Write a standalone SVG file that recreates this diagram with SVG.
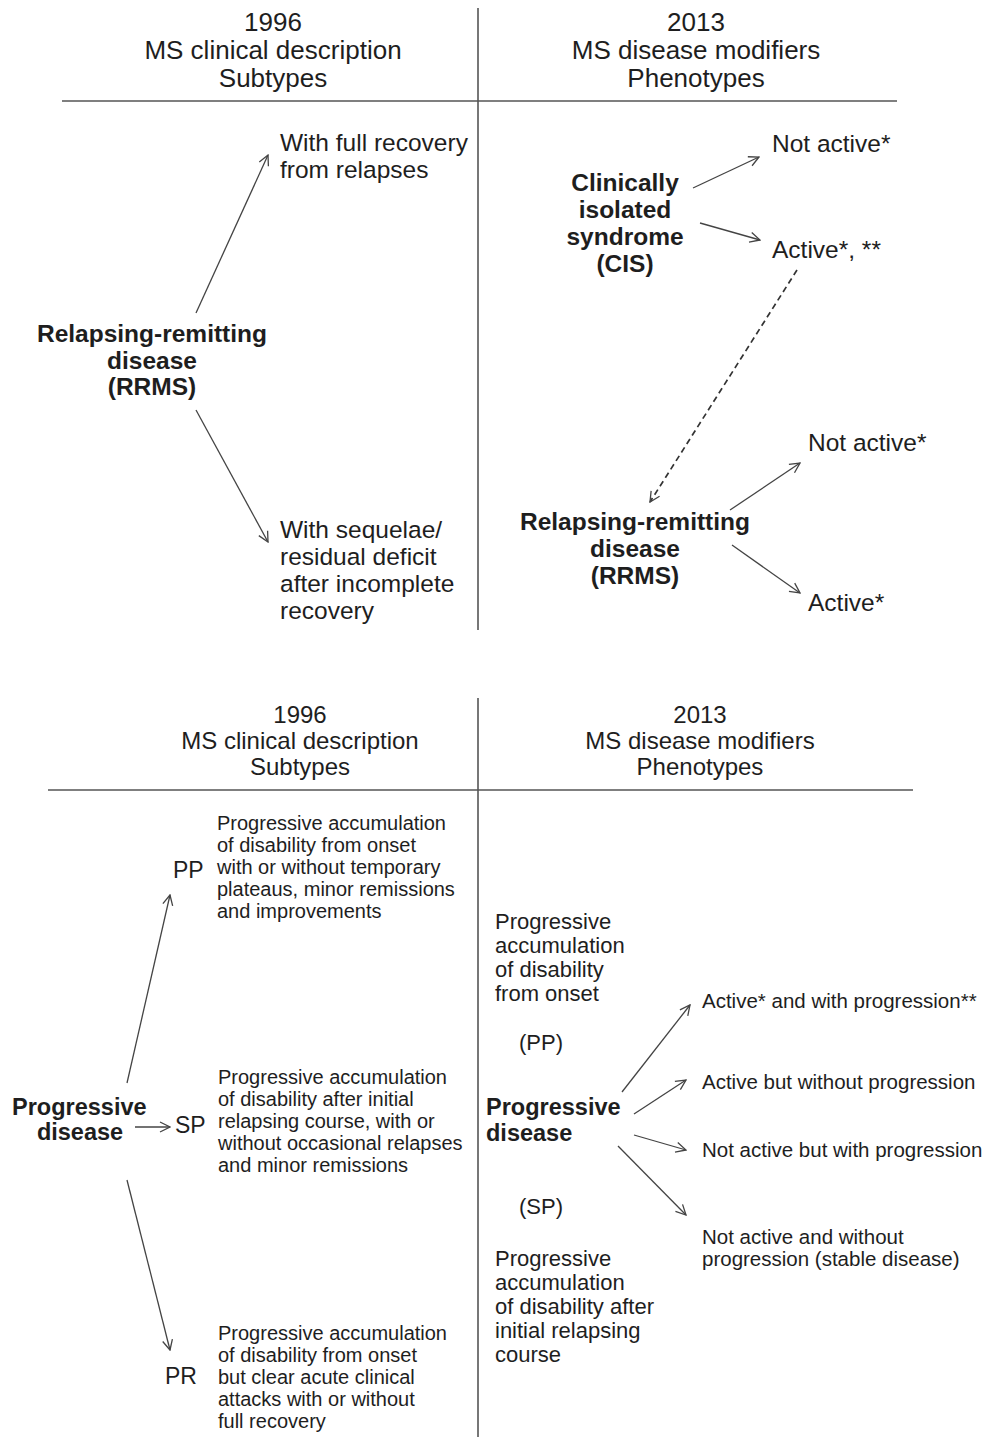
<svg xmlns="http://www.w3.org/2000/svg" width="984" height="1437" viewBox="0 0 984 1437">
<style>
text{font-family:"Liberation Sans",Arial,sans-serif;fill:#1e1e1e}
.h1{font-size:26px;text-anchor:middle}
.h2{font-size:24px;text-anchor:middle}
.t{font-size:24.5px}
.b{font-size:24.5px;font-weight:bold;text-anchor:middle}
.s{font-size:20px}
.ab{font-size:23px}
.bb{font-size:23.5px;font-weight:bold}
.r{font-size:22px}
.o{font-size:20.5px}
.rule{stroke:#555;stroke-width:1.6;fill:none}
.c{stroke:#444;stroke-width:1.3;fill:none;marker-end:url(#arr)}
.d{stroke-dasharray:6,4;stroke-width:1.7;stroke:#333}
</style>
<defs>
<marker id="arr" viewBox="0 0 12 12" refX="11" refY="6" markerWidth="12" markerHeight="12" markerUnits="userSpaceOnUse" orient="auto">
<path d="M1,1 L11,6 L1,11" fill="none" stroke="#444" stroke-width="1.3"/>
</marker>
</defs>
<g id="frame">
<line class="rule" x1="478" y1="8" x2="478" y2="630"/>
<line class="rule" x1="62" y1="101" x2="897" y2="101"/>
<line class="rule" x1="478" y1="698" x2="478" y2="1437"/>
<line class="rule" x1="48" y1="790" x2="913" y2="790"/>
</g>
<g id="hdr-top-left"><text class="h1" x="273" y="31">1996</text><text class="h1" x="273" y="59">MS clinical description</text><text class="h1" x="273" y="87">Subtypes</text></g>
<g id="hdr-top-right"><text class="h1" x="696" y="31">2013</text><text class="h1" x="696" y="59">MS disease modifiers</text><text class="h1" x="696" y="87">Phenotypes</text></g>
<g id="rrms-1996"><text class="b" x="152" y="342">Relapsing-remitting</text><text class="b" x="152" y="369">disease</text><text class="b" x="152" y="395">(RRMS)</text></g>
<g id="full-recovery"><text class="t" x="280" y="151">With full recovery</text><text class="t" x="280" y="178">from relapses</text></g>
<g id="sequelae"><text class="t" x="280" y="538">With sequelae/</text><text class="t" x="280" y="565">residual deficit</text><text class="t" x="280" y="592">after incomplete</text><text class="t" x="280" y="619">recovery</text></g>
<g id="cis"><text class="b" x="625" y="191">Clinically</text><text class="b" x="625" y="218">isolated</text><text class="b" x="625" y="245">syndrome</text><text class="b" x="625" y="272">(CIS)</text></g>
<g id="cis-not-active"><text class="t" x="772" y="152">Not active*</text></g>
<g id="cis-active"><text class="t" x="772" y="258">Active*, **</text></g>
<g id="rrms-2013"><text class="b" x="635" y="530">Relapsing-remitting</text><text class="b" x="635" y="557">disease</text><text class="b" x="635" y="584">(RRMS)</text></g>
<g id="rrms-not-active"><text class="t" x="808" y="451">Not active*</text></g>
<g id="rrms-active"><text class="t" x="808" y="611">Active*</text></g>
<g id="hdr-bottom-left"><text class="h2" x="300" y="723">1996</text><text class="h2" x="300" y="749">MS clinical description</text><text class="h2" x="300" y="775">Subtypes</text></g>
<g id="hdr-bottom-right"><text class="h2" x="700" y="723">2013</text><text class="h2" x="700" y="749">MS disease modifiers</text><text class="h2" x="700" y="775">Phenotypes</text></g>
<g id="prog-1996"><text class="bb" x="12" y="1115">Progressive</text><text class="bb" x="80" y="1140" text-anchor="middle">disease</text></g>
<g id="pp-1996"><text class="ab" x="173" y="878">PP</text><text class="s" x="217" y="830">Progressive accumulation</text><text class="s" x="217" y="852">of disability from onset</text><text class="s" x="217" y="874">with or without temporary</text><text class="s" x="217" y="896">plateaus, minor remissions</text><text class="s" x="217" y="918">and improvements</text></g>
<g id="sp-1996"><text class="ab" x="175" y="1133">SP</text><text class="s" x="218" y="1084">Progressive accumulation</text><text class="s" x="218" y="1106">of disability after initial</text><text class="s" x="218" y="1128">relapsing course, with or</text><text class="s" x="218" y="1150">without occasional relapses</text><text class="s" x="218" y="1172">and minor remissions</text></g>
<g id="pr-1996"><text class="ab" x="165" y="1384">PR</text><text class="s" x="218" y="1340">Progressive accumulation</text><text class="s" x="218" y="1362">of disability from onset</text><text class="s" x="218" y="1384">but clear acute clinical</text><text class="s" x="218" y="1406">attacks with or without</text><text class="s" x="218" y="1428">full recovery</text></g>
<g id="pp-2013"><text class="r" x="495" y="929">Progressive</text><text class="r" x="495" y="953">accumulation</text><text class="r" x="495" y="977">of disability</text><text class="r" x="495" y="1001">from onset</text><text class="r" x="519" y="1050">(PP)</text></g>
<g id="prog-2013"><text class="bb" x="486" y="1115">Progressive</text><text class="bb" x="486" y="1141">disease</text></g>
<g id="sp-2013"><text class="r" x="519" y="1214">(SP)</text><text class="r" x="495" y="1266">Progressive</text><text class="r" x="495" y="1290">accumulation</text><text class="r" x="495" y="1314">of disability after</text><text class="r" x="495" y="1338">initial relapsing</text><text class="r" x="495" y="1362">course</text></g>
<g id="out-1"><text class="o" x="702" y="1008">Active* and with progression**</text></g>
<g id="out-2"><text class="o" x="702" y="1089">Active but without progression</text></g>
<g id="out-3"><text class="o" x="702" y="1157">Not active but with progression</text></g>
<g id="out-4"><text class="o" x="702" y="1244">Not active and without</text><text class="o" x="702" y="1266">progression (stable disease)</text></g>
<g id="connectors">
<line class="c" x1="196" y1="313" x2="268" y2="155"/>
<line class="c" x1="196" y1="410" x2="268" y2="542"/>
<line class="c" x1="693" y1="188" x2="759" y2="157"/>
<line class="c" x1="700" y1="223" x2="760" y2="240"/>
<line class="c d" x1="797" y1="270" x2="650" y2="502"/>
<line class="c" x1="730" y1="510" x2="800" y2="463"/>
<line class="c" x1="732" y1="545" x2="800" y2="593"/>
<line class="c" x1="127" y1="1083" x2="170" y2="895"/>
<line class="c" x1="135" y1="1127" x2="170" y2="1127"/>
<line class="c" x1="127" y1="1180" x2="170" y2="1350"/>
<line class="c" x1="622" y1="1092" x2="690" y2="1005"/>
<line class="c" x1="634" y1="1114" x2="686" y2="1080"/>
<line class="c" x1="634" y1="1135" x2="686" y2="1150"/>
<line class="c" x1="618" y1="1146" x2="686" y2="1215"/>
</g>
</svg>
